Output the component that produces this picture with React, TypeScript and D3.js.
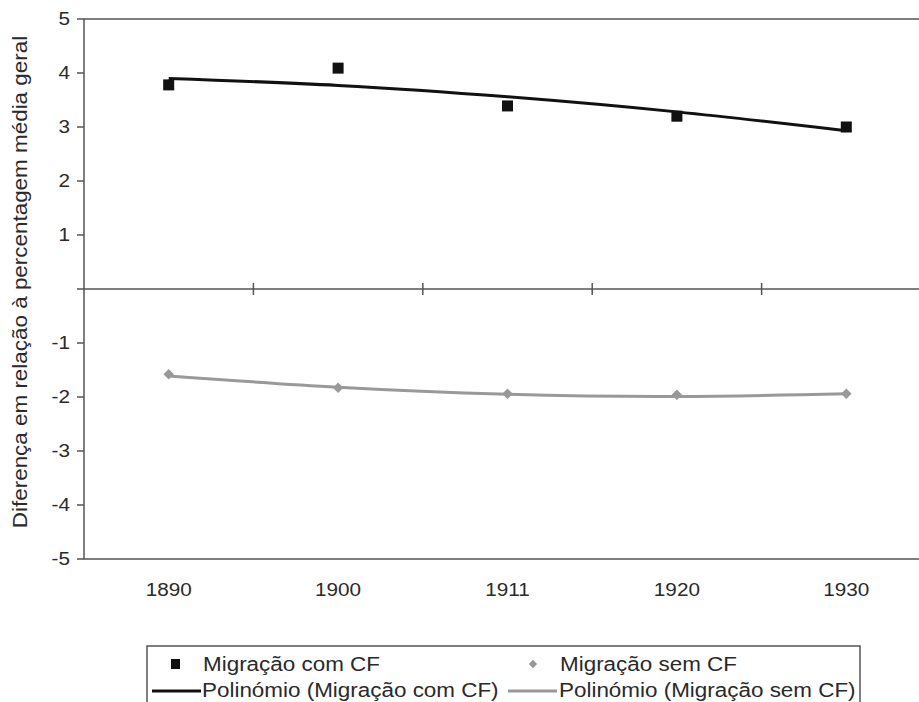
import { useEffect, useRef } from "react"
import * as d3 from "d3"

// data
const years = ["1890", "1900", "1911", "1920", "1930"]
const comCF = [3.78, 4.09, 3.39, 3.2, 3.0]
const semCF = [-1.58, -1.83, -1.94, -1.96, -1.94]
const trendComCF = [3.9, 3.77, 3.56, 3.28, 2.93]
const trendSemCF = [-1.61, -1.82, -1.95, -1.99, -1.94]
const yTicks = [5, 4, 3, 2, 1, -1, -2, -3, -4, -5]

const W = 919
const H = 702
const STRETCH = 1.15

export default function App() {
  const svgRef = useRef<SVGSVGElement>(null)

  useEffect(() => {
    if (!svgRef.current) return
    const svg = d3.select(svgRef.current)
    svg.selectAll("*").remove()

    const left = 84
    const right = 931
    const top = 19
    const bottom = 559
    const axisColor = "#555"
    const textColor = "#2a2a2a"
    const font = "Liberation Sans, Arial, sans-serif"

    const x = d3.scaleBand().domain(years).range([left, right]).padding(0)
    const y = d3.scaleLinear().domain([-5, 5]).range([bottom, top])
    const cx = (i: number) => (x(years[i]) || 0) + x.bandwidth() / 2

    svg.append("rect").attr("width", W).attr("height", H).attr("fill", "white")

    // plot border
    svg
      .append("rect")
      .attr("x", left)
      .attr("y", top)
      .attr("width", right - left)
      .attr("height", bottom - top)
      .attr("fill", "none")
      .attr("stroke", axisColor)
      .attr("stroke-width", 1.5)

    // y axis ticks + labels
    const yAxis = svg.append("g")
    yAxis
      .selectAll("line")
      .data([...yTicks, 0])
      .join("line")
      .attr("x1", left - 7)
      .attr("x2", left)
      .attr("y1", (d) => y(d))
      .attr("y2", (d) => y(d))
      .attr("stroke", axisColor)
      .attr("stroke-width", 1.5)
    yAxis
      .selectAll("text")
      .data(yTicks)
      .join("text")
      .attr("class", "stretch")
      .attr("x", left - 14)
      .attr("y", (d) => y(d))
      .attr("dy", "0.36em")
      .attr("text-anchor", "end")
      .attr("font-family", font)
      .attr("font-size", 18)
      .attr("fill", textColor)
      .text((d) => String(d))

    // zero line with category separators
    svg
      .append("line")
      .attr("x1", left)
      .attr("x2", right)
      .attr("y1", y(0))
      .attr("y2", y(0))
      .attr("stroke", axisColor)
      .attr("stroke-width", 1.5)
    svg
      .append("g")
      .selectAll("line")
      .data(years.slice(1))
      .join("line")
      .attr("x1", (d) => x(d) || 0)
      .attr("x2", (d) => x(d) || 0)
      .attr("y1", y(0) - 6)
      .attr("y2", y(0) + 6)
      .attr("stroke", axisColor)
      .attr("stroke-width", 1.5)

    // category labels
    svg
      .append("g")
      .selectAll("text")
      .data(years)
      .join("text")
      .attr("class", "stretch")
      .attr("x", (_, i) => cx(i))
      .attr("y", 596)
      .attr("text-anchor", "middle")
      .attr("font-family", font)
      .attr("font-size", 18)
      .attr("fill", textColor)
      .text((d) => d)

    // y title
    svg
      .append("text")
      .attr("class", "stretch")
      .attr("transform", `translate(27,282) rotate(-90)`)
      .attr("text-anchor", "middle")
      .attr("font-family", font)
      .attr("font-size", 19.5)
      .attr("fill", textColor)
      .text("Diferença em relação à percentagem média geral")

    // trend lines
    const line = d3
      .line<number>()
      .x((_, i) => cx(i))
      .y((d) => y(d))
      .curve(d3.curveNatural)

    svg
      .append("path")
      .datum(trendSemCF)
      .attr("d", line)
      .attr("fill", "none")
      .attr("stroke", "#999")
      .attr("stroke-width", 3)
    svg
      .append("path")
      .datum(trendComCF)
      .attr("d", line)
      .attr("fill", "none")
      .attr("stroke", "#111")
      .attr("stroke-width", 3)

    // markers
    const sq = 11
    svg
      .append("g")
      .selectAll("rect")
      .data(comCF)
      .join("rect")
      .attr("x", (_, i) => cx(i) - sq / 2)
      .attr("y", (d) => y(d) - sq / 2)
      .attr("width", sq)
      .attr("height", sq)
      .attr("fill", "#111")
    const diamond = d3.symbol(d3.symbolDiamond2, 70)
    svg
      .append("g")
      .selectAll("path")
      .data(semCF)
      .join("path")
      .attr("transform", (d, i) => `translate(${cx(i)},${y(d)})`)
      .attr("d", diamond)
      .attr("fill", "#999")

    // legend
    const lg = svg.append("g")
    lg.append("rect")
      .attr("x", 147)
      .attr("y", 646)
      .attr("width", 713)
      .attr("height", 80)
      .attr("fill", "white")
      .attr("stroke", axisColor)
      .attr("stroke-width", 1.5)
    lg.append("rect").attr("x", 171).attr("y", 659).attr("width", 9).attr("height", 10).attr("fill", "#111")
    lg.append("path")
      .attr("transform", "translate(533,664)")
      .attr("d", d3.symbol(d3.symbolDiamond2, 45))
      .attr("fill", "#999")
    lg.append("line").attr("x1", 152).attr("x2", 201).attr("y1", 691).attr("y2", 691).attr("stroke", "#111").attr("stroke-width", 3)
    lg.append("line").attr("x1", 508).attr("x2", 557).attr("y1", 691).attr("y2", 691).attr("stroke", "#999").attr("stroke-width", 3)

    const legendItems = [
      { label: "Migração com CF", x: 203, y: 664 },
      { label: "Migração sem CF", x: 560, y: 664 },
      { label: "Polinómio (Migração com CF)", x: 202, y: 690 },
      { label: "Polinómio (Migração sem CF)", x: 559, y: 690 },
    ]
    lg.selectAll("text.lbl")
      .data(legendItems)
      .join("text")
      .attr("class", "lbl stretch")
      .attr("x", (d) => d.x)
      .attr("y", (d) => d.y)
      .attr("dy", "0.36em")
      .attr("font-family", font)
      .attr("font-size", 19.5)
      .attr("fill", textColor)
      .text((d) => d.label)

    // widen glyphs a bit like the reference
    svg.selectAll<SVGTextElement, unknown>(".stretch").each(function () {
      const len = this.getComputedTextLength()
      d3.select(this).attr("textLength", len * STRETCH).attr("lengthAdjust", "spacingAndGlyphs")
    })
  }, [])

  return (
    <svg
      ref={svgRef}
      width={W}
      height={H}
      style={{ position: "absolute", left: 0, top: 0, display: "block" }}
    />
  )
}
